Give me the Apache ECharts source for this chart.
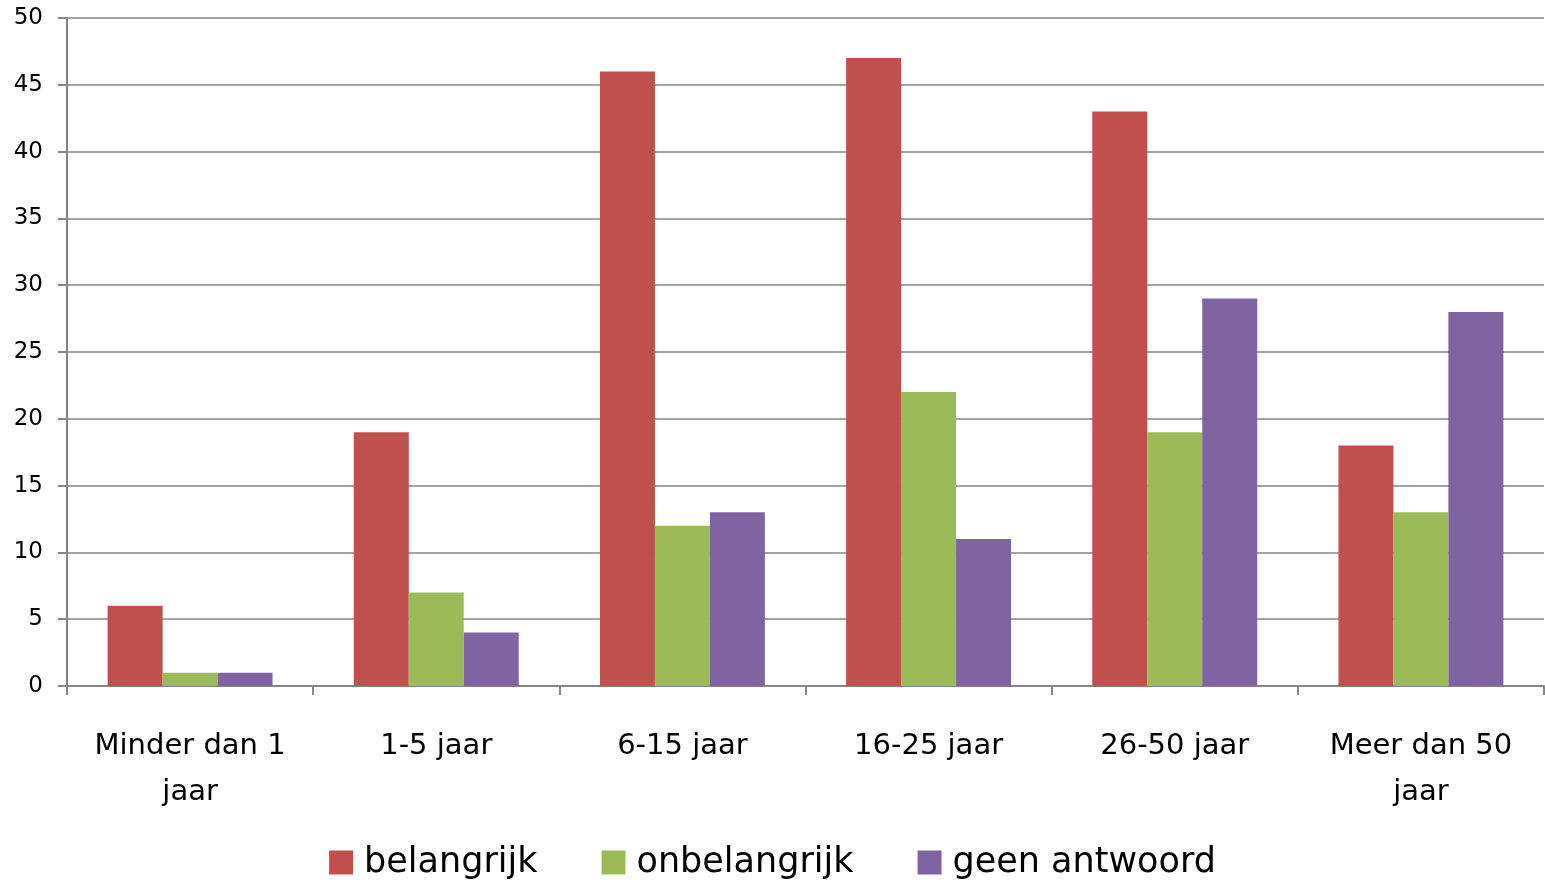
<!DOCTYPE html>
<html>
<head>
<meta charset="utf-8">
<script src="https://cdn.jsdelivr.net/npm/echarts@6/dist/echarts.min.js"></script>
<style>html,body{margin:0;padding:0;background:#fff;}#c{width:1545px;height:885px;}</style>
</head>
<body>
<div id="c"></div>
<script>
const categories = ['Minder dan 1\njaar', '1-5 jaar', '6-15 jaar', '16-25 jaar', '26-50 jaar', 'Meer dan 50\njaar'];
const seriesNames = ['belangrijk', 'onbelangrijk', 'geen antwoord'];
const belangrijk = [6, 19, 46, 47, 43, 18];
const onbelangrijk = [1, 7, 12, 22, 19, 13];
const geenAntwoord = [1, 4, 13, 11, 29, 28];
const colors = ['#C0504D', '#9BBB59', '#8064A2'];
const handFont = "'Comic Sans MS', 'DejaVu Sans', sans-serif";

const chart = echarts.init(document.getElementById('c'));
const values = [belangrijk, onbelangrijk, geenAntwoord];
chart.setOption({
  animation: false,
  color: colors,
  grid: { left: 67, right: 1, top: 18, bottom: 199, containLabel: false },
  legend: {
    bottom: 0,
    left: 'center',
    itemWidth: 24, itemHeight: 24, itemGap: 64,
    icon: 'rect',
    textStyle: { fontFamily: handFont, fontSize: 35, color: '#000', padding: [0, 0, 0, 6] },
    data: seriesNames
  },
  xAxis: {
    type: 'category',
    data: categories,
    axisLine: { lineStyle: { color: '#868686', width: 2 } },
    axisTick: { show: true, length: 9, lineStyle: { color: '#868686', width: 2 } },
    axisLabel: { margin: 37, fontFamily: handFont, fontSize: 29, color: '#000', lineHeight: 46, interval: 0 }
  },
  yAxis: {
    type: 'value',
    min: 0, max: 50, interval: 5,
    axisLine: { show: true, lineStyle: { color: '#868686', width: 2 } },
    axisTick: { show: true, length: 9, lineStyle: { color: '#868686', width: 2 } },
    splitLine: { lineStyle: { color: '#868686', width: 1.5 } },
    axisLabel: { margin: 24, fontFamily: "'DejaVu Sans', sans-serif", fontSize: 23, color: '#000' }
  },
  series: seriesNames.map((n, i) => ({
    name: n,
    type: 'bar',
    data: values[i],
    barGap: '0%',
    barCategoryGap: '33%',
    itemStyle: { color: colors[i] }
  }))
});
</script>
</body>
</html>
